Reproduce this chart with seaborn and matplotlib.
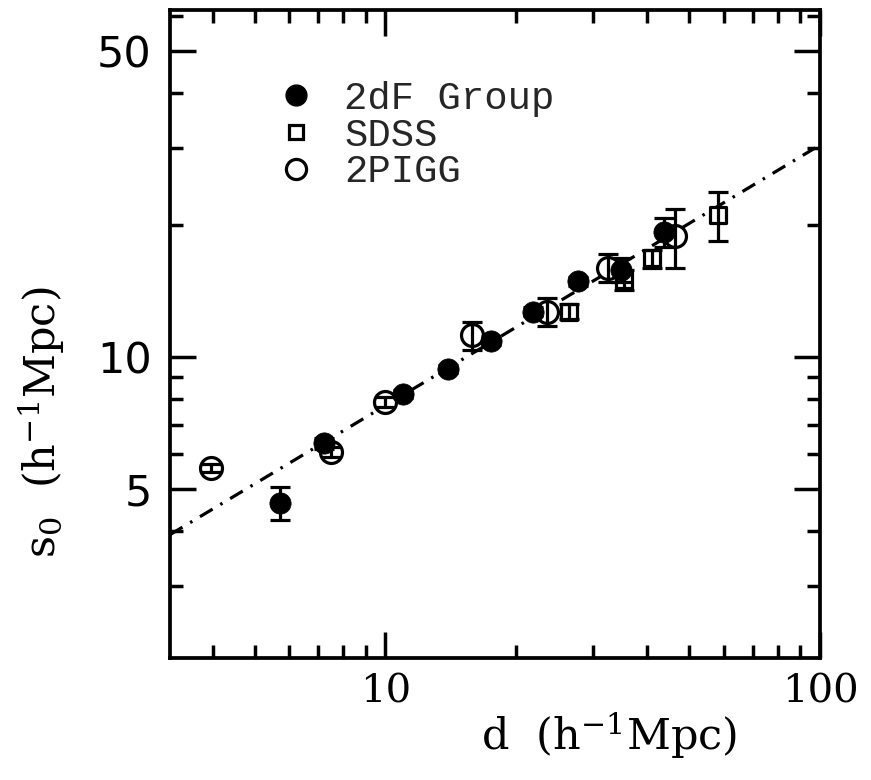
import numpy as np
import pandas as pd
import matplotlib
matplotlib.use("Agg")
import matplotlib.pyplot as plt
from matplotlib.lines import Line2D
from matplotlib.ticker import FixedLocator, NullFormatter, FixedFormatter
import seaborn as sns

# --- correlation length s0 versus mean separation d ---
dfg_d = [5.73, 7.23, 11.0, 13.9, 17.5, 21.9, 27.7, 34.8, 43.7]
dfg_s0 = [4.64, 6.36, 8.23, 9.39, 10.9, 12.7, 14.9, 15.8, 19.3]
dfg_err = [0.40, 0.18, 0.18, 0.20, 0.25, 0.30, 0.35, 1.00, 1.50]

sdss_d = [26.5, 35.3, 41.0, 58.2]
sdss_s0 = [12.7, 15.0, 16.8, 21.1]
sdss_err = [0.50, 0.80, 0.80, 2.70]

pigg_d = [3.97, 7.51, 10.0, 15.8, 23.5, 32.5, 46.4]
pigg_s0 = [5.58, 6.07, 7.89, 11.2, 12.7, 16.0, 18.9]
pigg_err = [0.12, 0.15, 0.20, 0.80, 0.95, 1.20, 2.90]

# power-law fit s0 = A (d / 10)^gamma
fit_amp = 7.75
fit_gamma = 0.595

legend_labels = ["2dF Group", "SDSS", "2PIGG"]

sns.set_theme(style="ticks")
plt.rcParams["font.family"] = ["DejaVu Serif"]
plt.rcParams["mathtext.fontset"] = "dejavuserif"

fig = plt.figure(figsize=(8.71, 7.80), dpi=100)
ax = fig.add_axes([0.195, 0.156, 0.7465, 0.831])
ax.set_xscale("log")
ax.set_yscale("log")
ax.set_xlim(3.19, 100)
ax.set_ylim(2.05, 62)

# fit line
d_line = np.logspace(np.log10(3.19), 2, 200)
fit = pd.DataFrame({"d": d_line, "s0": fit_amp * (d_line / 10.0) ** fit_gamma})
sns.lineplot(data=fit, x="d", y="s0", ax=ax, color="black", linewidth=2.3,
             linestyle=(0, (4.6, 2.8, 0.8, 2.8)), zorder=1)

pigg = pd.DataFrame({"d": pigg_d, "s0": pigg_s0})
sdss = pd.DataFrame({"d": sdss_d, "s0": sdss_s0})
dfg = pd.DataFrame({"d": dfg_d, "s0": dfg_s0})

eb_kw = dict(fmt="none", ecolor="black", elinewidth=2.3, capsize=7.5, capthick=2.3)

sns.scatterplot(data=pigg, x="d", y="s0", ax=ax, marker="o", s=250,
                facecolor="white", edgecolor="black", linewidth=2.3, zorder=2)
ax.errorbar(pigg_d, pigg_s0, yerr=pigg_err, zorder=3, **eb_kw)

sns.scatterplot(data=sdss, x="d", y="s0", ax=ax, marker="s", s=125,
                facecolor="white", edgecolor="black", linewidth=2.3, zorder=4)
ax.errorbar(sdss_d, sdss_s0, yerr=sdss_err, zorder=5, **eb_kw)

ax.errorbar(dfg_d, dfg_s0, yerr=dfg_err, zorder=6, **eb_kw)
sns.scatterplot(data=dfg, x="d", y="s0", ax=ax, marker="o", s=235,
                color="black", edgecolor="black", linewidth=0.5, zorder=7)

# axes frame and ticks
for sp in ax.spines.values():
    sp.set_linewidth(2.7)
    sp.set_color("black")

ax.xaxis.set_major_locator(FixedLocator([10, 100]))
ax.xaxis.set_major_formatter(FixedFormatter(["10", "100"]))
ax.xaxis.set_minor_locator(FixedLocator([4, 5, 6, 7, 8, 9, 20, 30, 40, 50, 60, 70, 80, 90]))
ax.xaxis.set_minor_formatter(NullFormatter())
ax.yaxis.set_major_locator(FixedLocator([5, 10, 50]))
ax.yaxis.set_major_formatter(FixedFormatter(["5", "10", "50"]))
ax.yaxis.set_minor_locator(FixedLocator([3, 4, 6, 7, 8, 9, 20, 30, 40, 60]))
ax.yaxis.set_minor_formatter(NullFormatter())

ax.tick_params(which="both", direction="in", top=True, right=True, color="black", width=2.5)
ax.tick_params(which="major", length=19)
ax.tick_params(which="minor", length=9.5)
ax.tick_params(axis="x", which="major", pad=11, labelsize=29, labelcolor="black")
ax.tick_params(axis="y", which="major", pad=13, labelsize=31, labelcolor="black")
for lab in ax.get_yticklabels():
    lab.set_family(["DejaVu Sans"])

ax.set_xlabel(r"d  (h$^{-1}$Mpc)", fontsize=31, color="black")
ax.set_ylabel(r"s$_0$  (h$^{-1}$Mpc)", fontsize=31, color="black")
ax.xaxis.set_label_coords(0.675, -0.08)
ax.yaxis.set_label_coords(-0.158, 0.364)

handles = [
    Line2D([], [], ls="none", marker="o", ms=15, mfc="black", mec="black"),
    Line2D([], [], ls="none", marker="s", ms=10.5, mfc="white", mec="black", mew=2.3),
    Line2D([], [], ls="none", marker="o", ms=14.5, mfc="white", mec="black", mew=2.3),
]
leg = ax.legend(handles, legend_labels, loc="upper left", bbox_to_anchor=(0.11, 0.945),
                frameon=False, handlelength=1.0, handletextpad=0.75, labelspacing=0.02,
                prop={"family": ["Liberation Mono", "DejaVu Sans Mono"], "size": 28})

fig.savefig("out.png", dpi=100, facecolor="white")
